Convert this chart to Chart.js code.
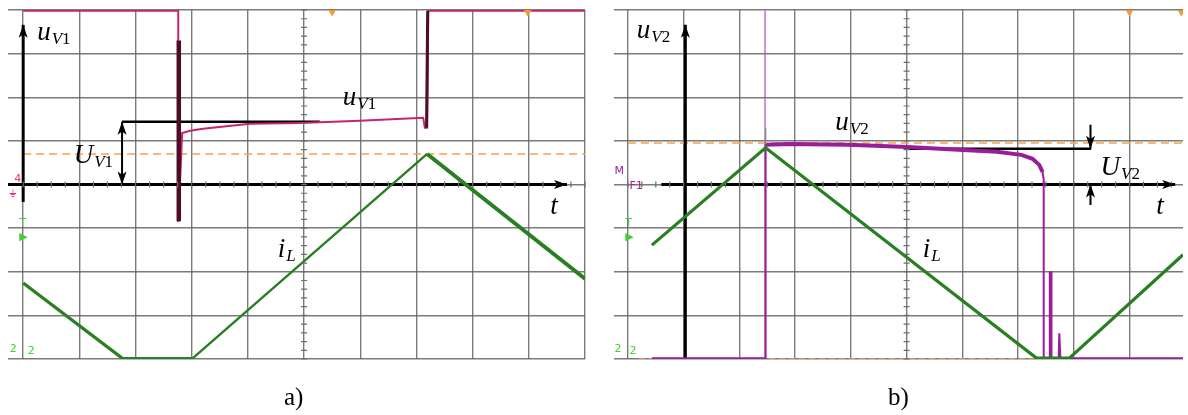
<!DOCTYPE html>
<html>
<head>
<meta charset="utf-8">
<script src="https://cdn.jsdelivr.net/npm/chart.js@4/dist/chart.umd.min.js"></script>
<style>
  html,body{margin:0;padding:0;background:#fff;}
  body{width:1188px;height:415px;position:relative;overflow:hidden;}
  canvas{position:absolute;top:0;}
  #ca{left:0;}
  #cb{left:600px;}
  .cap{position:absolute;font-family:"Liberation Serif","Times New Roman",serif;font-size:25px;color:#000;top:383px;}
</style>
</head>
<body>
<canvas id="ca" width="594" height="415"></canvas>
<canvas id="cb" width="588" height="415"></canvas>
<div class="cap" style="left:284px;">a)</div>
<div class="cap" style="left:888px;">b)</div>
<script>
// ---------- grid (oscilloscope divisions) ----------
const gridX = [0,1,2,3,4,5,6,7,8,9,10];
const gridY = [0,1,2,3,4,5,6,7,8];

// ---------- panel a) data (x, y in divisions) ----------
const aUv1X = [0, 2.76, 2.76, 2.83, 2.97, 3.20, 4.04, 4.93, 5.99, 7.12, 7.15, 7.19, 7.21, 10];
const aUv1Y = [7.98, 7.98, 3.14, 5.18, 5.23, 5.28, 5.39, 5.41, 5.46, 5.53, 5.30, 5.30, 7.98, 7.98];
const aSpikeX = [2.77, 2.77];
const aSpikeY = [7.3, 3.16];
const aEdgeX = [7.18, 7.20];
const aEdgeY = [5.30, 7.98];
const aIlRiseX = [1.76, 3.02, 7.19];
const aIlRiseY = [0.02, 0.02, 4.70];
const aIlFallX = [0, 1.76];
const aIlFallY = [1.74, 0.02];
const aIlFall2X = [7.19, 10];
const aIlFall2Y = [4.70, 1.84];
const aRefX = [0, 10];
const aRefY = [4.70, 4.70];
const aMarkX = [5.5, 8.98];
const aMarkY = [7.96, 7.96];
// annotation lines in a)
const aUrefX = [1.76, 5.28];
const aUrefY = [5.44, 5.44];
// arrows: [x1, y1, x2, y2] (tail -> head)
const aArrows = [
  [0, 3.6, 0, 7.66],
  [-0.27, 4.0, 9.68, 4.0],
  [1.76, 4.7, 1.76, 5.44],
  [1.76, 4.7, 1.76, 4.0]
];

// ---------- panel b) data ----------
const bUv2X = [0.43, 2.46, 2.47, 2.47, 2.88, 3.95, 5.02, 6.01, 6.62, 7.06, 7.26, 7.38, 7.44, 7.46, 7.46, 7.57, 7.57, 7.60, 7.60, 7.73, 7.74, 7.76, 9.96];
const bUv2Y = [0.02, 0.02, 0.02, 4.91, 4.93, 4.91, 4.86, 4.79, 4.75, 4.68, 4.59, 4.45, 4.29, 4.11, 0.02, 0.02, 1.99, 1.99, 0.02, 0.02, 0.59, 0.02, 0.02];
const bSpikeX = [2.46, 2.46];
const bSpikeY = [0.02, 7.99];
const bSpike2X = [2.47, 2.47];
const bSpike2Y = [4.92, 5.30];
const bIlX = [0.43, 2.47, 7.33, 7.92, 9.96];
const bIlY = [2.61, 4.84, 0.02, 0.02, 2.39];
const bRefX = [0, 9.96];
const bRefY = [4.95, 4.95];
const bRef0X = [0.2, 9.96];
const bRef0Y = [0.0, 0.0];
const bMarkX = [9.0, 9.93];
const bMarkY = [7.96, 7.96];
const bUrefX = [4.95, 8.31];
const bUrefY = [4.82, 4.82];
const bArrows = [
  [1.03, 0, 1.03, 7.66],
  [0.6, 4.0, 9.82, 4.0],
  [8.30, 5.37, 8.30, 4.82],
  [8.30, 3.53, 8.30, 4.0]
];

// ---------- labels: [text, sub, x, y, size] ----------
const aLabels = [
  ['u', 'V1', 0.25, 7.32, 27],
  ['U', 'V1', 0.90, 4.49, 27],
  ['u', 'V1', 5.69, 5.83, 27],
  ['t', '',  9.38, 3.33, 27],
  ['i', 'L', 4.53, 2.34, 27]
];
const bLabels = [
  ['u', 'V2', 0.16, 7.36, 27],
  ['u', 'V2', 3.72, 5.25, 27],
  ['U', 'V2', 8.48, 4.22, 27],
  ['t', '',  9.48, 3.33, 27],
  ['i', 'L', 5.29, 2.34, 27]
];

function pts(xs, ys){ return xs.map((x,i)=>({x:x, y:ys[i]})); }

function line(xs, ys, color, width, order, dash){
  return {data: pts(xs, ys), borderColor: color, backgroundColor: color, borderWidth: width,
    showLine: true, pointRadius: 0, fill: false, tension: 0, order: order,
    borderDash: dash || [], borderCapStyle: 'butt', borderJoinStyle: 'miter'};
}
function markers(xs, ys){
  return {data: pts(xs, ys), showLine: false, pointStyle: 'triangle', rotation: 180,
    pointRadius: 4, pointBackgroundColor: '#f39a35', pointBorderColor: '#f39a35', order: 0};
}

const overlay = {
  id: 'overlay',
  afterDatasetsDraw(chart, args, opts){
    const ctx = chart.ctx, xs = chart.scales.x, ys = chart.scales.y;
    const px = v => xs.getPixelForValue(v), py = v => ys.getPixelForValue(v);
    ctx.save();
    // minor ticks on centre lines
    ctx.strokeStyle = '#6e6e6e'; ctx.lineWidth = 1.2;
    ctx.beginPath();
    for (let v = 0; v <= opts.xmax + 1e-6; v += 0.25) {
      const x = px(v), y = py(4);
      ctx.moveTo(x, y - 3); ctx.lineTo(x, y + 3);
    }
    for (let v = 0; v <= 8 + 1e-6; v += 0.2) {
      const x = px(5), y = py(v);
      ctx.moveTo(x - 3, y); ctx.lineTo(x + 3, y);
    }
    ctx.stroke();
    // arrows heads
    ctx.fillStyle = '#000';
    opts.arrows.forEach(a => {
      const x1 = px(a[0]), y1 = py(a[1]), x2 = px(a[2]), y2 = py(a[3]);
      const ang = Math.atan2(y2 - y1, x2 - x1);
      const L = 13, W = 4.5;
      ctx.beginPath();
      ctx.moveTo(x2, y2);
      ctx.lineTo(x2 - L*Math.cos(ang) + W*Math.sin(ang), y2 - L*Math.sin(ang) - W*Math.cos(ang));
      ctx.lineTo(x2 - L*Math.cos(ang)*0.75, y2 - L*Math.sin(ang)*0.75);
      ctx.lineTo(x2 - L*Math.cos(ang) - W*Math.sin(ang), y2 - L*Math.sin(ang) + W*Math.cos(ang));
      ctx.closePath();
      ctx.fill();
    });
    // labels
    ctx.fillStyle = '#000';
    ctx.textBaseline = 'alphabetic';
    opts.labels.forEach(l => {
      const x = px(l[2]), y = py(l[3]);
      ctx.font = 'italic ' + l[4] + 'px "Liberation Serif", serif';
      ctx.fillText(l[0], x, y);
      let w = ctx.measureText(l[0]).width;
      if (l[1]) {
        const s = Math.round(l[4] * 0.62);
        const letter = l[1].replace(/[0-9]/g, '');
        const digits = l[1].replace(/[^0-9]/g, '');
        ctx.font = 'italic ' + s + 'px "Liberation Serif", serif';
        ctx.fillText(letter, x + w + 1, y + 4);
        const w2 = ctx.measureText(letter).width;
        if (digits) {
          ctx.font = s + 'px "Liberation Serif", serif';
          ctx.fillText(digits, x + w + 1 + w2, y + 4);
        }
      }
    });
    // scope channel markers
    ctx.font = '11px "DejaVu Sans", sans-serif';
    opts.scope.forEach(m => {
      ctx.fillStyle = m[3];
      ctx.fillText(m[0], px(m[1]), py(m[2]));
    });
    ctx.restore();
  }
};

function makeChart(id, datasets, xmin, xmax, pad, arrows, labels, scope){
  const ticks = (s) => { s.ticks = (s.axis === 'x' ? gridX.filter(v => v <= xmax).map(v => ({value: v})) : gridY.map(v => ({value: v}))); };
  const axis = (min, max) => ({
    type: 'linear', min: min, max: max,
    afterBuildTicks: ticks,
    ticks: {display: false},
    border: {display: false},
    grid: {color: 'rgba(100,100,100,0.85)', lineWidth: 1.4, drawTicks: false}
  });
  return new Chart(document.getElementById(id), {
    type: 'scatter',
    data: {datasets: datasets},
    options: {
      responsive: false, animation: false,
      layout: {padding: pad},
      plugins: {legend: {display: false}, tooltip: {enabled: false},
        overlay: {arrows: arrows, labels: labels, scope: scope, xmax: xmax}},
      scales: {x: axis(xmin, xmax), y: axis(0, 8)}
    },
    plugins: [overlay]
  });
}

const magenta = '#c8246e', dark = '#4e0c26', green = '#2a7f22', black = '#000', orange = '#f5a347', purple = '#9a1d9a';

makeChart('ca', [
  line(aUv1X, aUv1Y, magenta, 2, 2),
  line(aSpikeX, aSpikeY, dark, 4.5, 1),
  line(aEdgeX, aEdgeY, dark, 3, 1),
  line(aIlFallX, aIlFallY, green, 3.2, 2),
  line(aIlRiseX, aIlRiseY, green, 2.4, 2),
  line(aIlFall2X, aIlFall2Y, green, 4, 2),
  line(aUrefX, aUrefY, black, 2.5, 3),
  line([aArrows[0][0], aArrows[0][2]], [aArrows[0][1], aArrows[0][3]], black, 3, 3),
  line([aArrows[1][0], aArrows[1][2]], [aArrows[1][1], aArrows[1][3]], black, 3, 3),
  line([aArrows[2][0], aArrows[3][2]], [aArrows[2][3], aArrows[3][3]], black, 2, 3),
  line(aRefX, aRefY, orange, 1.5, 5, [8, 5]),
  markers(aMarkX, aMarkY)
], -0.27, 10, {left: 8, right: 9, top: 10, bottom: 56}, aArrows, aLabels, [
  ['4', -0.16, 4.05, '#e8328c'],
  ['\u23DA', -0.25, 3.72, '#e8328c'],
  ['T', -0.07, 3.05, '#47cc3a'],
  ['\u25B6', -0.07, 2.72, '#47cc3a'],
  ['2', -0.24, 0.16, '#47cc3a'],
  ['2', 0.08, 0.12, '#47cc3a']
]);

makeChart('cb', [
  line(bUv2X, bUv2Y, purple, 2, 2),
  line(bUv2X.slice(3, 13), bUv2Y.slice(3, 13), purple, 4, 2),
  line(bSpikeX, bSpikeY, '#b24cb2', 1.2, 2),
  line(bSpike2X, bSpike2Y, '#8a8a8a', 1.5, 1),
  line(bIlX, bIlY, green, 3.2, 1),
  line(bUrefX, bUrefY, black, 2.5, 3),
  line([bArrows[0][0], bArrows[0][2]], [bArrows[0][1], bArrows[0][3]], black, 3, 3),
  line([bArrows[1][0], bArrows[1][2]], [bArrows[1][1], bArrows[1][3]], black, 3, 3),
  line([bArrows[2][0], bArrows[2][2]], [bArrows[2][1], bArrows[2][3]], black, 2, 3),
  line([bArrows[3][0], bArrows[3][2]], [bArrows[3][1], bArrows[3][3]], black, 2, 3),
  line(bRefX, bRefY, orange, 1.5, 5, [8, 5]),
  line(bRef0X, bRef0Y, orange, 1.5, 5, [6, 4]),
  markers(bMarkX, bMarkY)
], -0.25, 9.96, {left: 14, right: 0, top: 10, bottom: 56}, bArrows, bLabels, [
  ['M', -0.24, 4.25, '#a0209e'],
  ['F1', 0.03, 3.9, '#a0209e'],
  ['T', -0.05, 3.05, '#47cc3a'],
  ['\u25B6', -0.05, 2.72, '#47cc3a'],
  ['2', -0.24, 0.16, '#47cc3a'],
  ['2', 0.03, 0.12, '#47cc3a']
]);
</script>
</body>
</html>
